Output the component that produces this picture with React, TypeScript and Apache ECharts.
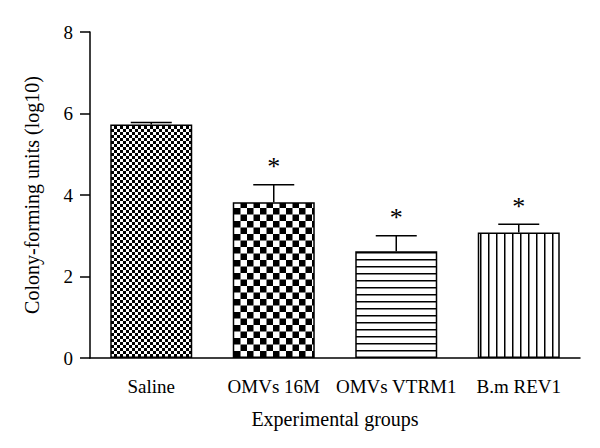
import React, { useEffect, useRef } from "react";
import * as echarts from "echarts";

const categories = ["Saline", "OMVs 16M", "OMVs VTRM1", "B.m REV1"];
const means = [5.73, 3.82, 2.62, 3.08];
const errors = [0.05, 0.43, 0.38, 0.2];
const marks = ["", "*", "*", "*"];
const yTicks = [0, 2, 4, 6, 8];

const FONT = "Liberation Serif";

function makePattern(kind: string) {
  const c = document.createElement("canvas");
  let w = 6, h = 6;
  if (kind === "fine") { w = 6; h = 6; }
  if (kind === "coarse") { w = 13; h = 13; }
  if (kind === "hlines") { w = 8; h = 6.6; }
  if (kind === "vlines") { w = 8.2; h = 8; }
  const W = Math.round(w), H = Math.round(h);
  c.width = W; c.height = H;
  const ctx = c.getContext("2d")!;
  ctx.fillStyle = "#fff";
  ctx.fillRect(0, 0, W, H);
  ctx.fillStyle = "#000";
  if (kind === "fine") {
    ctx.fillRect(0, 0, 3, 3);
    ctx.fillRect(3, 3, 3, 3);
  } else if (kind === "coarse") {
    ctx.fillRect(0, 0, 6.5, 6.5);
    ctx.fillRect(6.5, 6.5, 6.5, 6.5);
  } else if (kind === "hlines") {
    ctx.fillRect(0, 0, W, 1.5);
  } else if (kind === "vlines") {
    ctx.fillRect(0, 0, 1.5, H);
  }
  return { image: c, repeat: "repeat", imageWidth: W, imageHeight: H } as any;
}

export default function App() {
  const ref = useRef<HTMLDivElement>(null);
  useEffect(() => {
    if (!ref.current) return;
    const chart = echarts.init(ref.current, null, { renderer: "svg" });
    const patterns = [
      makePattern("fine"),
      makePattern("coarse"),
      makePattern("hlines"),
      makePattern("vlines"),
    ];
    const barData = means.map((v, i) => ({
      value: v,
      itemStyle: { color: patterns[i], borderColor: "#000", borderWidth: 1.5 },
    }));
    const errData = means.map((v, i) => [i, v, errors[i]]);
    chart.setOption({
      animation: false,
      backgroundColor: "#fff",
      grid: { left: 90, right: 20, top: 32, bottom: 90, containLabel: false },
      xAxis: {
        type: "category",
        data: categories,
        name: "Experimental groups",
        nameLocation: "middle",
        nameGap: 51,
        nameTextStyle: { fontFamily: FONT, fontSize: 20, color: "#000" },
        axisLine: { lineStyle: { color: "#000", width: 1.5 } },
        axisTick: { alignWithLabel: true, length: 7, lineStyle: { color: "#000", width: 1.5 } },
        axisLabel: { interval: 0, fontFamily: FONT, fontSize: 19, color: "#000", margin: 19 },
      },
      yAxis: {
        type: "value",
        min: yTicks[0],
        max: yTicks[yTicks.length - 1],
        interval: 2,
        name: "Colony-forming units (log10)",
        nameLocation: "middle",
        nameGap: 48,
        nameTextStyle: { fontFamily: FONT, fontSize: 20, color: "#000" },
        axisLine: { show: true, lineStyle: { color: "#000", width: 1.5 } },
        axisTick: { show: true, length: 10, lineStyle: { color: "#000", width: 1.5 } },
        axisLabel: { fontFamily: FONT, fontSize: 19, color: "#000", margin: 17 },
        splitLine: { show: false },
      },
      series: [
        {
          type: "bar",
          data: barData,
          barWidth: 82,
          z: 2,
        },
        {
          type: "custom",
          data: errData,
          z: 3,
          clip: false,
          renderItem: (params: any, api: any) => {
            const x = api.value(0);
            const y = api.value(1);
            const e = api.value(2);
            const mark = marks[params.dataIndex];
            const base = api.coord([x, y]);
            const top = api.coord([x, y + e]);
            const half = 20.5;
            const children: any[] = [
              {
                type: "line",
                shape: { x1: base[0], y1: base[1], x2: top[0], y2: top[1] },
                style: { stroke: "#000", lineWidth: 1.5 },
              },
              {
                type: "line",
                shape: { x1: top[0] - half, y1: top[1], x2: top[0] + half, y2: top[1] },
                style: { stroke: "#000", lineWidth: 1.5 },
              },
            ];
            if (mark) {
              children.push({
                type: "text",
                x: top[0],
                y: top[1] - 18,
                style: {
                  text: mark,
                  fontFamily: FONT,
                  fontSize: 26,
                  fill: "#000",
                  align: "center",
                  verticalAlign: "middle",
                },
              });
            }
            return { type: "group", children };
          },
        },
      ],
    });
    return () => chart.dispose();
  }, []);
  return <div ref={ref} style={{ width: 600, height: 448, margin: -8 }} />;
}
